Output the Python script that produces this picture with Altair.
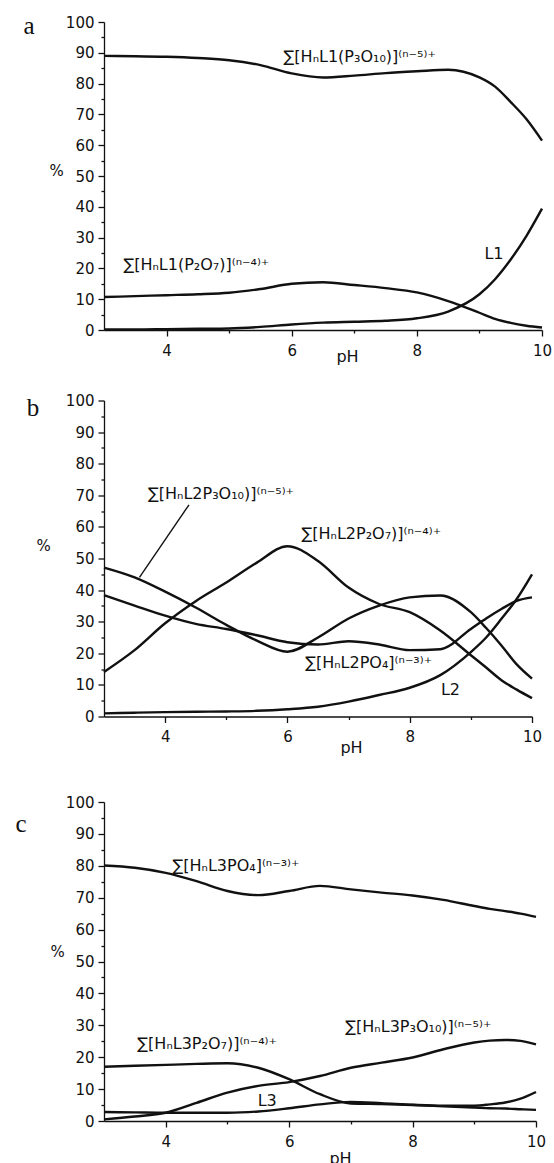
import altair as alt
import pandas as pd

# ---------------- data ----------------
PH = [3, 3.5, 4, 4.5, 5, 5.5, 6, 6.5, 7, 7.5, 8, 8.5, 9, 9.25, 9.5, 9.75, 10]

# panel a
A_P3O10 = [89.0, 88.9, 88.7, 88.3, 87.6, 86.0, 83.3, 82.0, 82.6, 83.4, 84.0, 84.5, 82.0, 79.0, 74.0, 68.5, 61.5]
A_P2O7 = [10.7, 11.0, 11.3, 11.6, 12.1, 13.3, 15.0, 15.5, 14.6, 13.6, 12.2, 9.4, 5.6, 3.6, 2.3, 1.4, 0.8]
A_L1 = [0.2, 0.2, 0.3, 0.4, 0.5, 1.0, 1.8, 2.4, 2.7, 3.0, 3.8, 6.0, 11.6, 16.5, 22.9, 30.5, 39.4]

# panel b
B_P3O10 = [47.1, 44.0, 39.5, 34.5, 29.0, 24.0, 20.5, 25.0, 31.0, 35.1, 37.7, 38.3, 33.0, 28.0, 22.5, 16.5, 12.0]
B_P2O7 = [14.1, 21.0, 29.5, 36.5, 42.4, 48.7, 53.9, 49.2, 40.8, 35.6, 33.0, 27.2, 19.4, 15.5, 11.5, 8.5, 5.8]
B_PO4 = [38.4, 35.1, 31.9, 29.3, 27.7, 25.7, 23.5, 22.8, 23.8, 22.8, 21.0, 21.3, 27.7, 31.0, 34.0, 36.6, 37.7]
B_L2 = [1.0, 1.2, 1.4, 1.5, 1.6, 1.8, 2.3, 3.1, 4.7, 6.8, 9.1, 13.1, 20.4, 25.0, 30.9, 37.2, 45.0]

# panel c
C_PO4 = [80.1, 79.4, 77.8, 75.2, 72.1, 70.8, 72.1, 73.7, 72.6, 71.6, 70.7, 69.3, 67.4, 66.5, 65.8, 65.0, 64.0]
C_P3O10 = [0.5, 1.4, 2.6, 5.7, 8.9, 11.0, 12.2, 14.1, 16.7, 18.3, 19.9, 22.5, 24.6, 25.2, 25.4, 25.1, 24.0]
C_P2O7 = [17.0, 17.3, 17.6, 17.9, 18.1, 16.7, 13.1, 8.4, 5.5, 5.3, 5.0, 4.6, 4.2, 4.0, 3.9, 3.7, 3.5]
C_L3 = [2.8, 2.7, 2.6, 2.6, 2.6, 3.0, 4.0, 5.2, 6.0, 5.6, 5.1, 4.8, 4.8, 5.2, 5.8, 7.0, 9.1]

# curve labels: text, pH (left edge), % (vertical centre)
A_LABELS = ["∑[HₙL1(P₃O₁₀)]⁽ⁿ⁻⁵⁾⁺", "∑[HₙL1(P₂O₇)]⁽ⁿ⁻⁴⁾⁺", "L1"]
A_LAB_X = [5.87, 3.31, 9.08]
A_LAB_Y = [88.6, 21.0, 24.6]

B_LABELS = ["∑[HₙL2P₃O₁₀)]⁽ⁿ⁻⁵⁾⁺", "∑[HₙL2P₂O₇)]⁽ⁿ⁻⁴⁾⁺", "∑[HₙL2PO₄]⁽ⁿ⁻³⁾⁺", "L2"]
B_LAB_X = [3.72, 6.23, 6.29, 8.51]
B_LAB_Y = [70.4, 57.8, 17.0, 8.4]
B_LEADER_X = [4.39, 3.58]
B_LEADER_Y = [67.0, 44.0]

C_LABELS = ["∑[HₙL3PO₄]⁽ⁿ⁻³⁾⁺", "∑[HₙL3P₂O₇)]⁽ⁿ⁻⁴⁾⁺", "∑[HₙL3P₃O₁₀)]⁽ⁿ⁻⁵⁾⁺", "L3"]
C_LAB_X = [4.11, 3.54, 6.91, 5.49]
C_LAB_Y = [79.9, 24.2, 29.5, 6.3]

Y_TICKS = list(range(0, 101, 5))
X_TICKS = [4, 5, 6, 7, 8, 9, 10]

FONT = "DejaVu Sans"
INK = "#111111"

XS = alt.Scale(domain=[3, 10], nice=False, zero=False)
YS = alt.Scale(domain=[0, 100], nice=False, zero=True)


def panel(series, labels, lab_x, lab_y, letter, letter_xy, width, height,
          ytitle_xy, xtitle_xy, leader=None, top_extend=None):
    rows = []
    for name, vals in series.items():
        for p, v in zip(PH, vals):
            rows.append({"ph": p, "pct": v, "series": name})
    df = pd.DataFrame(rows)

    xaxis = alt.Axis(
        values=X_TICKS, format="d",
        labelExpr="datum.value % 2 === 0 ? datum.label : ''",
        tickSize={"condition": {"test": "datum.value % 2 === 0", "value": 6}, "value": 3},
        grid=False, labelOverlap=False,
        domainColor=INK, domainWidth=1.3,
        tickColor=INK, tickWidth=1.3,
        labelFont=FONT, labelFontSize=15, labelColor=INK,
        labelBaseline="middle", labelPadding=14, labelFlush=False,
        title="pH", titleFont=FONT, titleFontSize=16, titleFontWeight="normal",
        titleColor=INK, titleX=xtitle_xy[0], titleY=xtitle_xy[1],
        titleAlign="center", titleBaseline="middle",
    )
    yaxis = alt.Axis(
        values=Y_TICKS, format="d",
        labelExpr="datum.value % 10 === 0 ? datum.label : ''",
        tickSize={"condition": {"test": "datum.value % 10 === 0", "value": 6}, "value": 3},
        grid=False, labelOverlap=False,
        domainColor=INK, domainWidth=1.3,
        tickColor=INK, tickWidth=1.3,
        labelFont=FONT, labelFontSize=15, labelColor=INK, labelPadding=4,
        labelFlush=False,
        title="%", titleFont=FONT, titleFontSize=15, titleFontWeight="normal",
        titleColor=INK, titleAngle=0, titleX=ytitle_xy[0], titleY=ytitle_xy[1],
        titleAlign="center", titleBaseline="middle",
    )
    x = alt.X("ph:Q", scale=XS, axis=xaxis)
    y = alt.Y("pct:Q", scale=YS, axis=yaxis)

    lines = alt.Chart(df).mark_line(
        color=INK, strokeWidth=2.4, interpolate="monotone"
    ).encode(x=x, y=y, detail="series:N")

    lab_df = pd.DataFrame({"ph": lab_x, "pct": lab_y, "text": labels})
    texts = alt.Chart(lab_df).mark_text(
        align="left", baseline="middle", font=FONT, fontSize=16, color=INK
    ).encode(x=x, y=y, text="text:N")

    letter_mark = alt.Chart(pd.DataFrame({"t": [letter]})).mark_text(
        font="Liberation Serif", fontSize=25, color=INK, align="center", baseline="middle"
    ).encode(x=alt.value(letter_xy[0]), y=alt.value(letter_xy[1]), text="t:N")

    layers = [lines, texts, letter_mark]
    if leader is not None:
        ld = pd.DataFrame({"ph": leader[0], "pct": leader[1]})
        layers.append(
            alt.Chart(ld).mark_line(color=INK, strokeWidth=1.4).encode(x=x, y=y)
        )
    if top_extend is not None:
        # invisible spacer that only reserves room above the panel
        layers.append(
            alt.Chart(pd.DataFrame({"t": [0]})).mark_rule(opacity=0, color="white").encode(
                x=alt.value(0), y=alt.value(top_extend), y2=alt.value(0)
            )
        )
    return alt.layer(*layers).properties(width=width, height=height)


pa = panel({"P3O10": A_P3O10, "P2O7": A_P2O7, "L1": A_L1},
           A_LABELS, A_LAB_X, A_LAB_Y, "a", (-75, 4), 438, 308,
           (-48, 148), (243, 26))
pb = panel({"P3O10": B_P3O10, "P2O7": B_P2O7, "PO4": B_PO4, "L2": B_L2},
           B_LABELS, B_LAB_X, B_LAB_Y, "b", (-71, 7), 428, 316,
           (-61, 145), (247, 31), leader=(B_LEADER_X, B_LEADER_Y))
pc = panel({"PO4": C_PO4, "P3O10": C_P3O10, "P2O7": C_P2O7, "L3": C_L3},
           C_LABELS, C_LAB_X, C_LAB_Y, "c", (-83, 22), 432, 319,
           (-47, 149), (236, 37), top_extend=-17)

chart = alt.vconcat(pa, pb, pc, spacing=29.5).properties(
    padding={"left": 15, "top": 14, "right": 0, "bottom": 0},
    background="white",
).configure_view(stroke=None)

chart.save("out.html", embed_options={"renderer": "svg", "actions": False})
